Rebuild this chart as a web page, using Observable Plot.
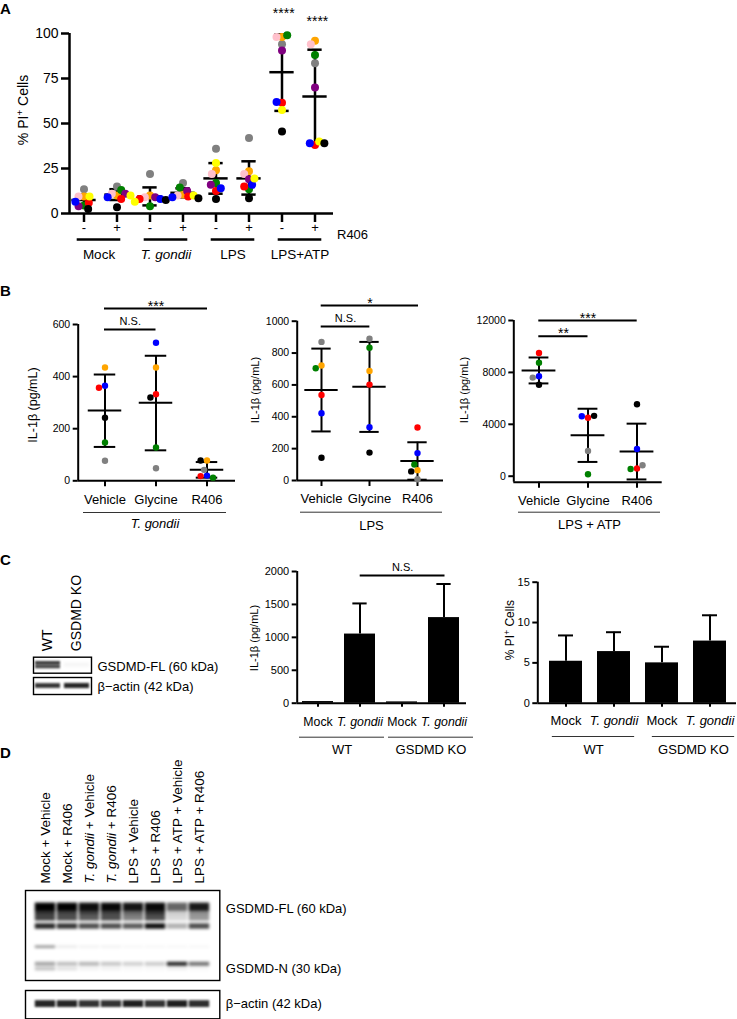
<!DOCTYPE html>
<html><head><meta charset="utf-8">
<script src="https://cdn.jsdelivr.net/npm/d3@7"></script>
<script src="https://cdn.jsdelivr.net/npm/@observablehq/plot@0.6"></script>
<style>
html,body{margin:0;padding:0;background:#fff;color:#000;font-family:'Liberation Sans',Arial,Helvetica,sans-serif;}
#root{position:relative;width:737px;height:1019px;overflow:hidden;background:#fff;}
#root svg{position:absolute;overflow:visible;}
.t{position:absolute;white-space:nowrap;line-height:1;}
sup{font-size:70%;vertical-align:0.5em;line-height:0;}
</style></head><body><div id="root"></div>
<script>
// ================= DATA =================
// Panel A: % PI+ cells, 9 donors
const donorsA = ["gray","orange","pink","green","purple","red","blue","yellow","black"];
const colorsA = ["#8e8e8e","#f7931e","#f46ad2","#0b8f26","#86117f","#fb1515","#1f1ff5","#fcf41c","#050505"];
const condsA = ["Mock-","Mock+","Tg-","Tg+","LPS-","LPS+","ATP-","ATP+"];
const r406A = ["-","+","-","+","-","+","-","+"];
const groupsA = ["Mock","T. gondii","LPS","LPS+ATP"];
const valsA = [
  [13.5, 9.5, 9.5, 4.5, 4, 6, 6.5, 9.5, 2.5],
  [15, 10, 11, 13, 11, 8, 9, 10, 3.5],
  [22, 10, 9, 4, 9, 8, 8, 6.5, 7.5],
  [17, 10.5, 10, 14.5, 12.5, 9.5, 9, 10, 8.5],
  [36, 24, 22, 17, 16, 12.5, 14, 28, 8],
  [42, 23.5, 22, 13.5, 19, 15, 16, 19.5, 8.5],
  [94, 98, 98, 99, 90.5, 61.5, 62, 57.5, 45.5],
  [83.5, 96, 94, 88, 70, 38, 39, 40, 39]
];
const meanA = [7.5, 10.5, 9.5, 11.5, 19.5, 19.5, 78.5, 65];
const loA   = [4.5, 7.5, 4.5, 9, 11, 10.5, 57, 39];
const hiA   = [10.5, 13.5, 14.5, 14, 28, 29, 99.5, 91];
const starsA = [{i: 6, label: "****", y: 108.5}, {i: 7, label: "****", y: 104}];

// Panel B: IL-1β (pg/mL)
const condsB = ["Vehicle","Glycine","R406"];
const donorsB = ["orange","blue","red","black","green","gray"];
const colorsB = ["#f7931e","#1f1ff5","#fb1515","#050505","#22c422","#8e8e8e"];
const valsB1 = [[435,365,357,242,147,77],[435,530,332,320,128,48],[78,20,18,78,12,42]];
const meanB1 = [270, 300, 42], loB1 = [130, 117, 12], hiB1 = [408, 480, 72];
const valsB2 = [[722,422,537,143,705,870],[688,335,602,175,833,890],[65,172,333,57,100,8]];
const meanB2 = [568, 588, 122], loB2 = [308, 305, 5], hiB2 = [828, 870, 240];
const donorsB3 = ["red","green","blue","gray","black"];
const colorsB3 = ["#fb1515","#22c422","#1f1ff5","#8e8e8e","#050505"];
const valsB3 = [[9500,8750,7700,7600,7050],[4500,150,4620,1950,4650],[600,550,2100,850,5550]];
const meanB3 = [8150, 3150, 1900], loB3 = [7150, 1100, -250], hiB3 = [9150, 5200, 4050];
const sigB1 = [{from:0,to:2,y:661,label:"***"},{from:0,to:1,y:581,label:"N.S."}];
const sigB2 = [{from:0,to:2,y:1098,label:"*"},{from:0,to:1,y:967,label:"N.S."}];
const sigB3 = [{from:0,to:2,y:12000,label:"***"},{from:0,to:1,y:10790,label:"**"}];

// Panel C
const condsC = ["WT Mock","WT Tg","KO Mock","KO Tg"];
const tickC = ["Mock","T. gondii","Mock","T. gondii"];
const groupsC = ["WT","GSDMD KO"];
const il1bC = [25, 1050, 20, 1300];
const il1bErrC = [null, 1515, null, 1810];
const piC = [5.2, 6.4, 5.0, 7.7];
const piErrC = [8.4, 8.8, 7.0, 10.9];
const sigC = [{from:1,to:3,y:1940,label:"N.S."}];
const lanesC = ["WT","GSDMD KO"];
const flBandsC = [{lane:"WT",y:0.38,t:0.2,k:0.85},{lane:"WT",y:0.62,t:0.2,k:0.75},{lane:"GSDMD KO",y:0.5,t:0.3,k:0.03}];
const actBandsC = [{lane:"WT",y:0.5,t:0.28,k:0.8},{lane:"GSDMD KO",y:0.5,t:0.3,k:0.85}];

// Panel D
const lanesD = ["Mock + Vehicle","Mock + R406","T. gondii + Vehicle","T. gondii + R406","LPS + Vehicle","LPS + R406","LPS + ATP + Vehicle","LPS + ATP + R406"];
const rowsD = [
  {y:0.185, t:0.09, k:[1,1,0.95,0.97,0.92,0.97,0.6,0.9]},
  {y:0.25,  t:0.06, k:[0.8,0.75,0.75,0.75,0.6,0.8,0.2,0.45]},
  {y:0.31,  t:0.06, k:[0.75,0.7,0.65,0.7,0.5,0.7,0.15,0.4]},
  {y:0.40,  t:0.06, k:[0.85,0.8,0.7,0.7,0.65,0.95,0.3,0.7]},
  {y:0.63,  t:0.03, k:[0.4,0.08,0.05,0.05,0.03,0.03,0.03,0.03]},
  {y:0.82,  t:0.045,k:[0.35,0.25,0.28,0.22,0.18,0.2,0.85,0.55]},
  {y:0.875, t:0.035,k:[0.25,0.12,0.05,0.05,0.03,0.03,0.06,0.03]}
];
const actinD = {y:0.48, t:0.24, k:[0.85,0.85,0.8,0.8,0.88,0.8,0.88,0.82]};

// ================= HELPERS =================
const FONT = "'Liberation Sans', Arial, Helvetica, sans-serif";
const root = document.getElementById("root");
const st = {background:"transparent", fontFamily: FONT, overflow:"visible", color:"#000"};
function put(svg, left, top){ svg.style.position="absolute"; svg.style.left=left+"px"; svg.style.top=top+"px"; root.appendChild(svg); return svg; }
function txt(html, x, cy, css){ const d=document.createElement("div"); d.className="t"; d.innerHTML=html; Object.assign(d.style,{left:x+"px",top:cy+"px",transform:"translateY(-50%)"},css||{}); root.appendChild(d); }
function vtxt(html, cx, cy, size){ const d=document.createElement("div"); d.className="t"; d.innerHTML=html; Object.assign(d.style,{left:cx+"px",top:cy+"px",fontSize:size+"px",transform:"translate(-50%,-50%) rotate(-90deg)"}); root.appendChild(d); }

function axesOverlay(o){
  const ix = v => (v - o.c0)/o.step;
  const marks = [
    Plot.ruleY([o.yDomain[0]], {strokeWidth:o.sw}),
    Plot.ruleX([ix(o.axisL)], {y1:o.yDomain[0], y2:o.yDomain[1], strokeWidth:o.sw}),
    Plot.axisY({ticks:o.yTicks, tickSize:o.yTickSize, tickPadding:3, fontSize:o.tickFont, strokeWidth:o.sw, tickFormat:d=>String(d), label:null})
  ];
  if (o.sig){
    marks.push(Plot.ruleY(o.sig, {x1:"from", x2:"to", y:"y", strokeWidth:o.sw}));
    marks.push(Plot.text(o.sig.filter(d=>d.label[0]==="*"), {x:d=>(d.from+d.to)/2, y:"y", text:"label", lineAnchor:"bottom", dy:2, fontSize:14}));
    marks.push(Plot.text(o.sig.filter(d=>d.label[0]!=="*"), {x:d=>(d.from+d.to)/2, y:"y", text:"label", lineAnchor:"bottom", dy:-4, fontSize:11}));
  }
  if (o.stars) marks.push(Plot.text(o.stars, {x:"i", y:"y", text:"label", lineAnchor:"bottom", fontSize:14}));
  return put(Plot.plot({
    width:o.w, height:o.h, marginLeft:o.axisL-o.left, marginRight:o.left+o.w-o.axisR,
    marginTop:o.yTop-o.top, marginBottom:o.top+o.h-o.yBot, style:st,
    x:{domain:[ix(o.axisL), ix(o.axisR)], axis:null},
    y:{domain:o.yDomain, axis:null},
    marks
  }), o.left, o.top);
}

function scatterDots(o, conds, labels, vals, donors, colors, mean, lo, hi){
  const n = conds.length, fl = o.c0 - o.step/2, fr = o.c0 + o.step*(n-0.5);
  const lab = new Map(conds.map((c,i)=>[c, labels[i]]));
  const pts = conds.flatMap((c,i)=>donors.map((d,j)=>({cond:c, donor:d, v:vals[i][j]})));
  const stats = conds.map((c,i)=>({cond:c, mean:mean[i], lo:lo[i], hi:hi[i], offset:0}));
  const ci = (o.step-o.capW)/2, mi = (o.step-o.meanW)/2;
  return put(Plot.plot({
    width:o.w, height:o.h, marginLeft:fl-o.left, marginRight:o.left+o.w-fr,
    marginTop:o.yTop-o.top, marginBottom:o.top+o.h-o.yBot, style:st,
    fx:{domain:conds, padding:0},
    x:{domain:[-1,1], axis:null},
    y:{domain:o.yDomain, axis:null},
    color:{domain:donors, range:colors},
    marks:[
      Plot.axisFx({anchor:"bottom", tickSize:o.xTickSize, tickPadding:o.xTickPad, fontSize:o.catFont, strokeWidth:o.sw, tickFormat:d=>lab.get(d), label:null}),
      Plot.ruleX(stats, {fx:"cond", x:"offset", y1:"lo", y2:"hi", strokeWidth:o.sw}),
      Plot.tickY(stats, {fx:"cond", y:"lo", insetLeft:ci, insetRight:ci, strokeWidth:o.sw}),
      Plot.tickY(stats, {fx:"cond", y:"hi", insetLeft:ci, insetRight:ci, strokeWidth:o.sw}),
      Plot.tickY(stats, {fx:"cond", y:"mean", insetLeft:mi, insetRight:mi, strokeWidth:o.sw}),
      Plot.dot(pts, Plot.dodgeX({anchor:"middle", padding:o.pad}, {fx:"cond", y:"v", r:o.r, fill:"donor"}))
    ]
  }), o.left, o.top);
}

function barBars(o, conds, labels, vals, his){
  const n = conds.length, fl = o.c0 - o.step/2, fr = o.c0 + o.step*(n-0.5);
  const p = 1 - o.barW/o.step;
  const lab = new Map(conds.map((c,i)=>[c, labels[i]]));
  const data = conds.map((c,i)=>({cond:c, v:vals[i], hi:his[i]}));
  const errs = data.filter(d=>d.hi!=null);
  const ci = (o.barW-o.capW)/2;
  return put(Plot.plot({
    width:o.w, height:o.h, marginLeft:fl-o.left, marginRight:o.left+o.w-fr,
    marginTop:o.yTop-o.top, marginBottom:o.top+o.h-o.yBot, style:st,
    x:{domain:conds, paddingInner:p, paddingOuter:p/2},
    y:{domain:o.yDomain, axis:null},
    marks:[
      Plot.ruleX(errs, {x:"cond", y1:"v", y2:"hi", strokeWidth:o.sw}),
      Plot.tickY(errs, {x:"cond", y:"hi", insetLeft:ci, insetRight:ci, strokeWidth:o.sw}),
      Plot.barY(data, {x:"cond", y:"v", fill:"#000"}),
      Plot.axisX({anchor:"bottom", tickSize:o.xTickSize, tickPadding:o.xTickPad, fontSize:o.catFont, strokeWidth:o.sw, tickFormat:d=>lab.get(d), label:null})
    ]
  }), o.left, o.top);
}

function groupBar(o){
  return put(Plot.plot({
    width:o.w, height:o.h, marginLeft:o.x1-o.left, marginRight:o.left+o.w-o.x2,
    marginTop:o.lineY-o.top, marginBottom:o.top+o.h-o.textY, style:st,
    x:{domain:o.groups, padding:0, axis:null},
    y:{domain:[0,1], axis:null},
    marks:[
      Plot.tickY(o.groups, {x:d=>d, y:1, insetLeft:o.inset, insetRight:o.inset, strokeWidth:o.sw, stroke:o.stroke}),
      Plot.text(o.groups, {x:d=>d, y:0, text:d=>d, fontSize:o.font})
    ]
  }), o.left, o.top);
}

let blurId = 0;
function blot(o, lanes, bands, labels){
  const svg = Plot.plot({
    width:o.w, height:o.h, marginLeft:o.fL-o.left, marginRight:o.left+o.w-o.fR,
    marginTop:o.fT-o.top, marginBottom:o.top+o.h-o.fB, style:st,
    x:{domain:lanes, paddingInner:0, paddingOuter:o.po, axis:null},
    y:{domain:[0,1], reverse:true, axis:null},
    opacity:{domain:[0,1], range:[0,1]},
    marks:[
      Plot.barY(bands, {x:"lane", y1:d=>d.y-d.t/2, y2:d=>d.y+d.t/2, fill:"#050505", fillOpacity:"k", insetLeft:o.inset, insetRight:o.inset, mixBlendMode:"multiply"}),
      Plot.frame({stroke:"#000", strokeWidth:1.4}),
      o.laneFont ? Plot.axisX({anchor:"top", tickRotate:-90, tickSize:0, tickPadding:o.lanePad, fontSize:o.laneFont, label:null}) : null,
      Plot.text(labels, {y:"y", text:"t", frameAnchor:"right", textAnchor:"start", dx:6, fontSize:13})
    ]
  });
  const id = "bl" + (blurId++);
  const defs = document.createElementNS("http://www.w3.org/2000/svg","defs");
  defs.innerHTML = `<filter id="${id}" x="-20%" y="-60%" width="140%" height="220%"><feGaussianBlur stdDeviation="${o.blur}"/></filter>`;
  svg.insertBefore(defs, svg.firstChild);
  svg.querySelectorAll('g[aria-label="bar"]').forEach(g=>g.setAttribute("filter",`url(#${id})`));
  return put(svg, o.left, o.top);
}

// ================= PANEL A =================
const gA = {left:0, top:0, w:380, h:240, c0:81, step:33.7, axisL:69, axisR:333, yDomain:[0,100], yTop:33, yBot:213,
  yTicks:[0,25,50,75,100], tickFont:14, yTickSize:8, sw:2.5, r:4, pad:-2.5, meanW:25, capW:15, catFont:13, xTickSize:9, xTickPad:0, stars:starsA};
axesOverlay(gA);
scatterDots(gA, condsA, r406A, valsA, donorsA, colorsA, meanA, loA, hiA);
groupBar({left:0, top:230, w:380, h:40, x1:81-16.85, x2:81+33.7*7.5, groups:groupsA, lineY:239, textY:254, inset:11.7, sw:2.5, stroke:"#000", font:13.5});
txt("R406", 337, 234, {fontSize:"13px"});
vtxt("% PI<sup>+</sup> Cells", 23, 110, 14);

// ================= PANEL B =================
const gB1 = {left:20, top:290, w:230, h:215, c0:104, step:51.5, axisL:77.7, axisR:235, yDomain:[0,600], yTop:324, yBot:480.3,
  yTicks:[0,200,400,600], tickFont:10.5, yTickSize:5, sw:2, r:3.2, pad:0, meanW:34, capW:22, catFont:13, xTickSize:6, xTickPad:7.5, sig:sigB1};
axesOverlay(gB1);
scatterDots(gB1, condsB, condsB, valsB1, donorsB, colorsB, meanB1, loB1, hiB1);
groupBar({left:20, top:500, w:230, h:35, x1:83, x2:226, groups:["T. gondii"], lineY:512, textY:523.5, inset:0, sw:1, stroke:"#333", font:13});
vtxt("IL-1β (pg/mL)", 33, 405, 12.5);

const gB2 = {left:245, top:290, w:225, h:215, c0:320.7, step:48.65, axisL:296.7, axisR:443, yDomain:[0,1000], yTop:320.7, yBot:480,
  yTicks:[0,200,400,600,800,1000], tickFont:10.5, yTickSize:5, sw:2, r:3.2, pad:0, meanW:34, capW:20, catFont:13, xTickSize:6, xTickPad:7.5, sig:sigB2};
axesOverlay(gB2);
scatterDots(gB2, condsB.map(c=>c+"2"), condsB, valsB2, donorsB, colorsB, meanB2, loB2, hiB2);
groupBar({left:245, top:500, w:225, h:35, x1:300, x2:442.7, groups:["LPS"], lineY:511.7, textY:525, inset:0, sw:1, stroke:"#333", font:13});
vtxt("IL-1β (pg/mL)", 255, 390, 11);

const gB3 = {left:470, top:290, w:267, h:215, c0:538.3, step:49.2, axisL:513.3, axisR:661.7, yDomain:[-462,12000], yTop:320, yBot:481.7,
  yTicks:[0,4000,8000,12000], tickFont:10.5, yTickSize:5, sw:2, r:3.2, pad:0, meanW:34, capW:20, catFont:13, xTickSize:6, xTickPad:7.5, sig:sigB3};
axesOverlay(gB3);
scatterDots(gB3, condsB.map(c=>c+"3"), condsB, valsB3, donorsB3, colorsB3, meanB3, loB3, hiB3);
groupBar({left:470, top:500, w:267, h:35, x1:518, x2:660.7, groups:["LPS + ATP"], lineY:511.7, textY:524, inset:0, sw:1, stroke:"#333", font:13});
vtxt("IL-1β (pg/mL)", 464, 390, 11);

// ================= PANEL C =================
blot({left:0, top:560, w:260, h:115, fL:33, fR:91, fT:656.7, fB:672.7, po:0, inset:2, blur:0.9, laneFont:14, lanePad:6},
  lanesC, flBandsC, [{y:0.58, t:"GSDMD-FL (60 kDa)"}]);
blot({left:0, top:675, w:260, h:22, fL:33, fR:91, fT:677, fB:694, po:0, inset:2, blur:0.9},
  lanesC, actBandsC, [{y:0.53, t:"β−actin (42 kDa)"}]);

const gC1 = {left:245, top:555, w:240, h:160, c0:317.3, step:42.4, axisL:296.7, axisR:466, yDomain:[0,2000], yTop:571, yBot:702.7,
  yTicks:[0,500,1000,1500,2000], tickFont:11, yTickSize:5, sw:2, barW:31.7, capW:15, catFont:12.3, xTickSize:4, xTickPad:10, sig:sigC};
axesOverlay(gC1);
barBars(gC1, condsC, tickC, il1bC, il1bErrC);
groupBar({left:245, top:730, w:245, h:30, x1:296, x2:475.3, groups:groupsC, lineY:736.7, textY:749, inset:2, sw:1, stroke:"#333", font:13});
vtxt("IL-1β (pg/mL)", 254, 638, 11);

const gC2 = {left:480, top:560, w:257, h:160, c0:565, step:48.3, axisL:537.3, axisR:736, yDomain:[0,15], yTop:581.7, yBot:702.7,
  yTicks:[0,5,10,15], tickFont:11, yTickSize:5, sw:2, barW:33, capW:15, catFont:13, xTickSize:4, xTickPad:9};
axesOverlay(gC2);
barBars(gC2, condsC.map(c=>c+"p"), tickC, piC, piErrC);
groupBar({left:480, top:730, w:257, h:30, x1:542.6, x2:743.6, groups:groupsC, lineY:736, textY:749, inset:8.85, sw:1, stroke:"#333", font:13});
vtxt("% PI<sup>+</sup> Cells", 510, 630, 12);

// ================= PANEL D =================
const bandsD = rowsD.flatMap(r => lanesD.map((l,i)=>({lane:l, y:r.y, t:r.t, k:r.k[i]})));
const bandsActD = lanesD.map((l,i)=>({lane:l, y:actinD.y, t:actinD.t, k:actinD.k[i]}));
blot({left:0, top:780, w:400, h:205, fL:25, fR:219.3, fT:890, fB:980, po:0.337, inset:0.8, blur:1.4, laneFont:13.5, lanePad:7},
  lanesD, bandsD, [{y:0.2, t:"GSDMD-FL (60 kDa)"},{y:0.867, t:"GSDMD-N (30 kDa)"}]);
blot({left:0, top:985, w:400, h:34, fL:25, fR:219.3, fT:990, fB:1018.3, po:0.337, inset:0.8, blur:1.3},
  lanesD, bandsActD, [{y:0.46, t:"β−actin (42 kDa)"}]);

// ================= LETTERS =================
const L = {fontSize:"15px", fontWeight:"bold"};
txt("A", 0, 8, L); txt("B", 0, 290, L); txt("C", 0, 559, L); txt("D", 0, 752, L);

// italic species names
const phrase = "T. gondii";
root.querySelectorAll("svg text").forEach(t=>{
  if (t.querySelector("tspan")) return;
  const s = t.textContent, k = s.indexOf(phrase);
  if (k < 0) return;
  t.textContent = "";
  [s.slice(0,k), phrase, s.slice(k+phrase.length)].forEach((p,j)=>{
    if (!p) return;
    const ts = document.createElementNS("http://www.w3.org/2000/svg","tspan");
    ts.textContent = p; if (j===1) ts.setAttribute("font-style","italic");
    t.appendChild(ts);
  });
});
</script></body></html>
